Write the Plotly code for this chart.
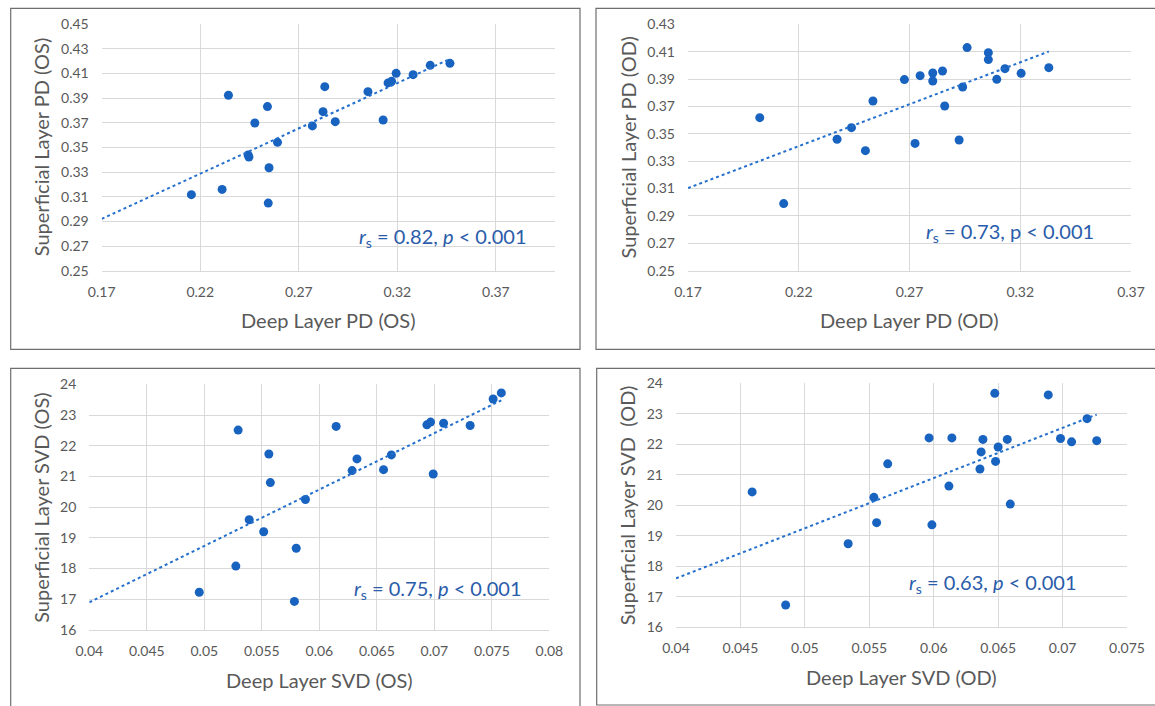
import numpy as np
import plotly.graph_objects as go

W, H = 1155, 706

# ---------------- data ----------------
pd_os_deep = [0.2155, 0.2311, 0.2343, 0.2477, 0.2541, 0.2443, 0.2447, 0.2592, 0.2549, 0.2545,
              0.2769, 0.2823, 0.2832, 0.2885, 0.3051, 0.3128, 0.3153, 0.3171, 0.3194, 0.3280,
              0.3367, 0.3467]
pd_os_sup = [0.3117, 0.3160, 0.3924, 0.3699, 0.3832, 0.3439, 0.3423, 0.3542, 0.3336, 0.3049,
             0.3675, 0.3791, 0.3994, 0.3710, 0.3953, 0.3723, 0.4024, 0.4037, 0.4102, 0.4091,
             0.4167, 0.4183]

pd_od_deep = [0.2024, 0.2132, 0.2373, 0.2438, 0.2501, 0.2535, 0.2677, 0.2725, 0.2748, 0.2805,
              0.2805, 0.2849, 0.2859, 0.2924, 0.2940, 0.2960, 0.3056, 0.3056, 0.3094, 0.3131,
              0.3204, 0.3329]
pd_od_sup = [0.3618, 0.2990, 0.3460, 0.3545, 0.3377, 0.3740, 0.3896, 0.3430, 0.3925, 0.3944,
             0.3886, 0.3959, 0.3703, 0.3455, 0.3842, 0.4130, 0.4093, 0.4042, 0.3898, 0.3976,
             0.3942, 0.3983]

svd_os_deep = [0.04956, 0.05274, 0.05294, 0.05390, 0.05516, 0.05561, 0.05574, 0.05783, 0.05799,
               0.05879, 0.06146, 0.06285, 0.06327, 0.06558, 0.06626, 0.06935, 0.06967, 0.06990,
               0.07080, 0.07311, 0.07511, 0.07582]
svd_os_sup = [17.23, 18.08, 22.51, 19.59, 19.20, 21.73, 20.80, 16.93, 18.66, 20.25, 22.63, 21.19,
              21.57, 21.22, 21.70, 22.68, 22.77, 21.08, 22.73, 22.66, 23.52, 23.72]

svd_od_deep = [0.04591, 0.04851, 0.05336, 0.05536, 0.05557, 0.05643, 0.05964, 0.05986, 0.06118,
               0.06141, 0.06359, 0.06368, 0.06382, 0.06474, 0.06480, 0.06500, 0.06571, 0.06594,
               0.06889, 0.06984, 0.07070, 0.07190, 0.07265]
svd_od_sup = [20.44, 16.73, 18.74, 20.26, 19.43, 21.36, 22.21, 19.36, 20.63, 22.21, 21.19, 21.75,
              22.16, 23.67, 21.44, 21.91, 22.16, 20.04, 23.62, 22.19, 22.08, 22.84, 22.12]

# tick labels
pd_x_ticks = ["0.17", "0.22", "0.27", "0.32", "0.37"]
pd_os_y_ticks = ["0.25", "0.27", "0.29", "0.31", "0.33", "0.35", "0.37", "0.39", "0.41", "0.43", "0.45"]
pd_od_y_ticks = ["0.25", "0.27", "0.29", "0.31", "0.33", "0.35", "0.37", "0.39", "0.41", "0.43"]
svd_os_x_ticks = ["0.04", "0.045", "0.05", "0.055", "0.06", "0.065", "0.07", "0.075", "0.08"]
svd_od_x_ticks = ["0.04", "0.045", "0.05", "0.055", "0.06", "0.065", "0.07", "0.075"]
svd_y_ticks = ["16", "17", "18", "19", "20", "21", "22", "23", "24"]

x_titles = ["Deep Layer PD (OS)", "Deep Layer PD (OD)", "Deep Layer SVD (OS)", "Deep Layer SVD (OD)"]
y_titles = ["Superficial Layer PD (OS)", "Superficial Layer PD (OD)",
            "Superficial Layer SVD (OS)", "Superficial Layer SVD  (OD)"]
stats = ["<i>r</i><sub>s</sub> = 0.82, <i>p</i> &lt; 0.001",
         "<i>r</i><sub>s</sub> = 0.73, p &lt; 0.001",
         "<i>r</i><sub>s</sub> = 0.75, <i>p</i> &lt; 0.001",
         "<i>r</i><sub>s</sub> = 0.63, <i>p</i> &lt; 0.001"]

# ---------------- style / layout ----------------
FONT = "Lato"
DOT = "#1862C0"
LINE = "#2470CC"
GRID = "#D9D9D9"
TICKC = "#595959"
STATC = "#2A5CAA"

def px(x):
    return x / W

def py(y):
    return 1 - y / H

# plot areas in pixels: (left, right, top, bottom)
areas = [(101.7, 555.0, 24.3, 270.7),
         (688.0, 1131.0, 24.3, 270.7),
         (89.3, 549.4, 384.3, 630.0),
         (676.0, 1127.0, 383.3, 627.3)]
xranges = [[0.17, 0.40], [0.17, 0.37], [0.04, 0.08], [0.04, 0.075]]
yranges = [[0.25, 0.45], [0.25, 0.43], [16, 24], [16, 24]]
xticks = [pd_x_ticks, pd_x_ticks, svd_os_x_ticks, svd_od_x_ticks]
yticks = [pd_os_y_ticks, pd_od_y_ticks, svd_y_ticks, svd_y_ticks]
xs = [pd_os_deep, pd_od_deep, svd_os_deep, svd_od_deep]
ys = [pd_os_sup, pd_od_sup, svd_os_sup, svd_od_sup]
xtitle_y = [320, 320, 680, 677]
ytitle_x = [40.7, 627, 40.7, 627]
stat_pos = [(442.5, 237), (1010, 232), (437.5, 589), (992, 583)]
boxes = [(10.7, 580, 8.3, 349.3), (596, 1160, 8.3, 349.3),
         (10.7, 580, 368.3, 712), (596.7, 1160, 368.3, 705)]

fig = go.Figure()
annotations = []
shapes = []
layout = {}

for i in range(4):
    n = "" if i == 0 else str(i + 1)
    xa, ya = "x" + n, "y" + n
    x = np.array(xs[i])
    y = np.array(ys[i])
    fig.add_trace(go.Scatter(x=x, y=y, mode="markers", xaxis=xa, yaxis=ya,
                             marker=dict(color=DOT, size=9), showlegend=False, hoverinfo="x+y"))
    slope, icpt = np.polyfit(x, y, 1)
    tx = np.array([xranges[i][0], x.max()])
    fig.add_trace(go.Scatter(x=tx, y=slope * tx + icpt, mode="lines", xaxis=xa, yaxis=ya,
                             line=dict(color=LINE, width=2, dash="dot"), showlegend=False,
                             hoverinfo="skip"))
    l, r, t, b = areas[i]
    tvx = [float(v) for v in xticks[i]]
    tvy = [float(v) for v in yticks[i]]
    layout["xaxis" + n] = dict(domain=[px(l), px(r)], range=xranges[i], anchor=ya,
                               automargin=False,
                               tickvals=tvx, ticktext=xticks[i], showgrid=True, gridcolor=GRID,
                               gridwidth=1, showline=True, linecolor=GRID, linewidth=1,
                               zeroline=False, ticks="", ticklen=0, ticklabelstandoff=8,
                               tickfont=dict(family=FONT, size=14, color=TICKC))
    layout["yaxis" + n] = dict(domain=[py(b), py(t)], range=yranges[i], anchor=xa,
                               automargin=False,
                               tickvals=tvy, ticktext=yticks[i], showgrid=True, gridcolor=GRID,
                               gridwidth=1, showline=False, zeroline=False, ticks="",
                               ticklen=0, ticklabelstandoff=12,
                               tickfont=dict(family=FONT, size=14, color=TICKC))
    cx = (l + r) / 2
    cy = (t + b) / 2
    annotations.append(dict(text=x_titles[i], x=px(cx), y=py(xtitle_y[i]), xref="paper",
                            yref="paper", xanchor="center", yanchor="middle", showarrow=False,
                            font=dict(family=FONT, size=20, color=TICKC)))
    annotations.append(dict(text=y_titles[i], x=px(ytitle_x[i]), y=py(cy), xref="paper",
                            yref="paper", xanchor="center", yanchor="middle", showarrow=False,
                            textangle=-90, font=dict(family=FONT, size=20, color=TICKC)))
    sx, sy = stat_pos[i]
    annotations.append(dict(text=stats[i], x=px(sx), y=py(sy), xref="paper", yref="paper",
                            xanchor="center", yanchor="middle", showarrow=False,
                            font=dict(family=FONT, size=20, color=STATC)))
    bl, br, bt, bb = boxes[i]
    shapes.append(dict(type="rect", xref="paper", yref="paper", x0=px(bl), x1=px(br),
                       y0=py(bb), y1=py(bt), line=dict(color="#6E6E6E", width=1.2),
                       fillcolor="rgba(0,0,0,0)", layer="below"))

fig.update_layout(width=W, height=H, autosize=False, margin=dict(l=0, r=0, t=0, b=0),
                  paper_bgcolor="white", plot_bgcolor="white", annotations=annotations,
                  shapes=shapes, font=dict(family=FONT), **layout)

fig.write_html("out.html", config={"displayModeBar": False},
               post_script="document.body.style.margin='0';document.body.style.overflow='hidden';")
